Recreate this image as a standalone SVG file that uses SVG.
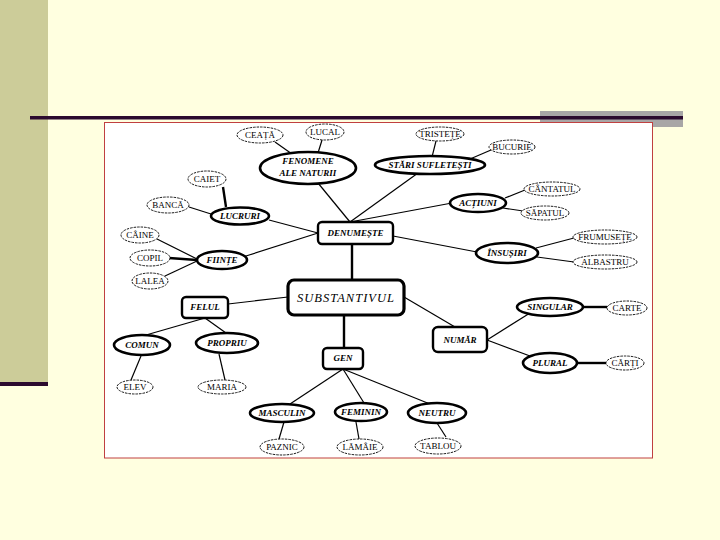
<svg xmlns="http://www.w3.org/2000/svg" width="720" height="540" viewBox="0 0 720 540">
<style>
.leaf{fill:#fff;stroke:#000;stroke-width:0.9;stroke-dasharray:2.5,1}
.main{fill:#fff;stroke:#000;stroke-width:2.6}
.box{fill:#fff;stroke:#000;stroke-width:2.4}
.lt{font-family:"Liberation Serif",serif;font-size:9px;text-anchor:middle}
.mt{font-family:"Liberation Serif",serif;font-size:9px;font-weight:bold;font-style:italic;text-anchor:middle}
.c line{stroke:#000;stroke-width:1.2}
.c .th{stroke-width:2.4}
</style>
<rect width="720" height="540" fill="#FFFFE0"/>
<rect x="0" y="0" width="48" height="382" fill="#CCCC99"/>
<rect x="0" y="382" width="48" height="4" fill="#2B0A2E"/>
<rect x="540" y="111" width="143" height="16" fill="#A8A6A6"/>
<rect x="30" y="116" width="653" height="3.5" fill="#2B0A2E"/>
<rect x="104.5" y="122.5" width="548" height="335.5" fill="#fff" stroke="#C04040" stroke-width="1"/>

<g class="c" id="connectors">
<line x1="275" y1="142" x2="292" y2="154"/>
<line x1="322" y1="140" x2="318" y2="153"/>
<line x1="318" y1="183" x2="350" y2="222"/>
<line x1="418" y1="173" x2="350" y2="222"/>
<line x1="436" y1="141" x2="432" y2="157"/>
<line x1="491" y1="150" x2="470" y2="159"/>
<line x1="452" y1="203" x2="350" y2="222"/>
<line x1="525" y1="190" x2="505" y2="198"/>
<line x1="530" y1="212" x2="503" y2="208"/>
<line x1="393" y1="236" x2="477" y2="252"/>
<line x1="574" y1="238" x2="536" y2="248"/>
<line x1="574" y1="262" x2="537" y2="257"/>
<line x1="269" y1="220" x2="318" y2="233"/>
<line class="th" x1="223" y1="187" x2="226" y2="207"/>
<line x1="189" y1="207" x2="211" y2="214"/>
<line x1="246" y1="256" x2="318" y2="233"/>
<line x1="157" y1="239" x2="197" y2="259"/>
<line class="th" x1="169" y1="258" x2="197" y2="260"/>
<line x1="165" y1="276" x2="197" y2="261"/>
<line class="th" x1="352" y1="244" x2="352" y2="280"/>
<line x1="228" y1="304" x2="288" y2="297"/>
<line x1="205" y1="318" x2="146" y2="335"/>
<line x1="205" y1="318" x2="226" y2="333"/>
<line x1="141" y1="356" x2="131" y2="380"/>
<line x1="219" y1="354" x2="225" y2="380"/>
<line class="th" x1="344" y1="315" x2="344" y2="348"/>
<line x1="343" y1="369" x2="290" y2="404"/>
<line x1="343" y1="369" x2="364" y2="403"/>
<line x1="343" y1="369" x2="430" y2="404"/>
<line x1="284" y1="422" x2="279" y2="439"/>
<line x1="356" y1="422" x2="359" y2="439"/>
<line x1="437" y1="423" x2="446" y2="437"/>
<line x1="404" y1="297" x2="455" y2="327"/>
<line x1="487" y1="340" x2="530" y2="313"/>
<line x1="487" y1="340" x2="530" y2="356"/>
<line class="th" x1="583" y1="307" x2="607" y2="307"/>
<line class="th" x1="577" y1="363" x2="606" y2="363"/>
</g>

<g id="ceata"><ellipse class="leaf" cx="260" cy="135" rx="23" ry="8"/><text class="lt" x="260" y="138">CEAȚĂ</text></g>
<g id="lucal"><ellipse class="leaf" cx="325" cy="132" rx="19" ry="8"/><text class="lt" x="325" y="135">LUCAL</text></g>
<g id="fenomene"><ellipse class="main" cx="308" cy="168" rx="48" ry="16"/><text class="mt" x="308" y="164">FENOMENE</text><text class="mt" x="308" y="176">ALE NATURII</text></g>
<g id="tristete"><ellipse class="leaf" cx="440" cy="134" rx="24" ry="7"/><text class="lt" x="440" y="137">TRISTEȚE</text></g>
<g id="bucurie"><ellipse class="leaf" cx="512" cy="147" rx="23" ry="7"/><text class="lt" x="512" y="150">BUCURIE</text></g>
<g id="stari"><ellipse class="main" cx="430" cy="165" rx="55" ry="9"/><text class="mt" x="430" y="168">STĂRI SUFLETEȘTI</text></g>
<g id="caiet"><ellipse class="leaf" cx="207" cy="179" rx="19" ry="8"/><text class="lt" x="207" y="182">CAIET</text></g>
<g id="banca"><ellipse class="leaf" cx="168" cy="205" rx="21" ry="8"/><text class="lt" x="168" y="208">BANCĂ</text></g>
<g id="lucruri"><ellipse class="main" cx="240" cy="216" rx="29" ry="8.5"/><text class="mt" x="240" y="219">LUCRURI</text></g>
<g id="actiuni"><ellipse class="main" cx="478" cy="203" rx="28" ry="9"/><text class="mt" x="478" y="206">ACȚIUNI</text></g>
<g id="cantatul"><ellipse class="leaf" cx="552" cy="189" rx="28" ry="7"/><text class="lt" x="552" y="192">CÂNTATUL</text></g>
<g id="sapatul"><ellipse class="leaf" cx="545" cy="213" rx="24" ry="7"/><text class="lt" x="545" y="216">SĂPATUL</text></g>
<g id="denumeste"><rect class="box" x="318" y="222" width="75" height="22" rx="4"/><text class="mt" x="355.5" y="236">DENUMEȘTE</text></g>
<g id="caine"><ellipse class="leaf" cx="140" cy="235" rx="19" ry="8"/><text class="lt" x="140" y="238">CÂINE</text></g>
<g id="copil"><ellipse class="leaf" cx="150" cy="258" rx="20" ry="8"/><text class="lt" x="150" y="261">COPIL</text></g>
<g id="lalea"><ellipse class="leaf" cx="150" cy="281" rx="18" ry="8"/><text class="lt" x="150" y="284">LALEA</text></g>
<g id="fiinte"><ellipse class="main" cx="222" cy="260" rx="25" ry="9"/><text class="mt" x="222" y="263">FIINȚE</text></g>
<g id="insusiri"><ellipse class="main" cx="507" cy="253" rx="31" ry="10"/><text class="mt" x="507" y="256">ÎNSUȘIRI</text></g>
<g id="frumusete"><ellipse class="leaf" cx="605" cy="237" rx="32" ry="7"/><text class="lt" x="605" y="240">FRUMUSEȚE</text></g>
<g id="albastru"><ellipse class="leaf" cx="605" cy="262" rx="32" ry="7"/><text class="lt" x="605" y="265">ALBASTRU</text></g>
<g id="substantivul"><rect x="288" y="280" width="116" height="35" rx="6" fill="#fff" stroke="#000" stroke-width="3.2"/><text x="346" y="302" font-family="Liberation Serif,serif" font-size="12.5" font-style="italic" text-anchor="middle" letter-spacing="1">SUBSTANTIVUL</text></g>
<g id="felul"><rect class="box" x="182" y="297" width="46" height="21" rx="4"/><text class="mt" x="205" y="310">FELUL</text></g>
<g id="comun"><ellipse class="main" cx="142" cy="345" rx="28" ry="10"/><text class="mt" x="142" y="348">COMUN</text></g>
<g id="propriu"><ellipse class="main" cx="227" cy="343" rx="31" ry="10"/><text class="mt" x="227" y="346">PROPRIU</text></g>
<g id="elev"><ellipse class="leaf" cx="135" cy="387" rx="18" ry="7"/><text class="lt" x="135" y="390">ELEV</text></g>
<g id="maria"><ellipse class="leaf" cx="222" cy="387" rx="24" ry="7"/><text class="lt" x="222" y="390">MARIA</text></g>
<g id="gen"><rect class="box" x="323" y="348" width="40" height="21" rx="4"/><text class="mt" x="343" y="361">GEN</text></g>
<g id="numar"><rect class="box" x="433" y="327" width="54" height="25" rx="5"/><text class="mt" x="460" y="343">NUMĂR</text></g>
<g id="singular"><ellipse class="main" cx="550" cy="307" rx="33" ry="9"/><text class="mt" x="550" y="310">SINGULAR</text></g>
<g id="plural"><ellipse class="main" cx="550" cy="363" rx="27" ry="10"/><text class="mt" x="550" y="366">PLURAL</text></g>
<g id="carte"><ellipse class="leaf" cx="627" cy="308" rx="20" ry="7"/><text class="lt" x="627" y="311">CARTE</text></g>
<g id="carti"><ellipse class="leaf" cx="625" cy="363" rx="19" ry="7"/><text class="lt" x="625" y="366">CĂRȚI</text></g>
<g id="masculin"><ellipse class="main" cx="282" cy="413" rx="32" ry="9"/><text class="mt" x="282" y="416">MASCULIN</text></g>
<g id="feminin"><ellipse class="main" cx="361" cy="412" rx="26" ry="9"/><text class="mt" x="361" y="415">FEMININ</text></g>
<g id="neutru"><ellipse class="main" cx="437" cy="413" rx="29" ry="10"/><text class="mt" x="437" y="416">NEUTRU</text></g>
<g id="paznic"><ellipse class="leaf" cx="282" cy="447" rx="22" ry="8"/><text class="lt" x="282" y="450">PAZNIC</text></g>
<g id="lamaie"><ellipse class="leaf" cx="360" cy="447" rx="23" ry="8"/><text class="lt" x="360" y="450">LĂMÂIE</text></g>
<g id="tablou"><ellipse class="leaf" cx="438" cy="446" rx="23" ry="8"/><text class="lt" x="438" y="449">TABLOU</text></g>
</svg>
